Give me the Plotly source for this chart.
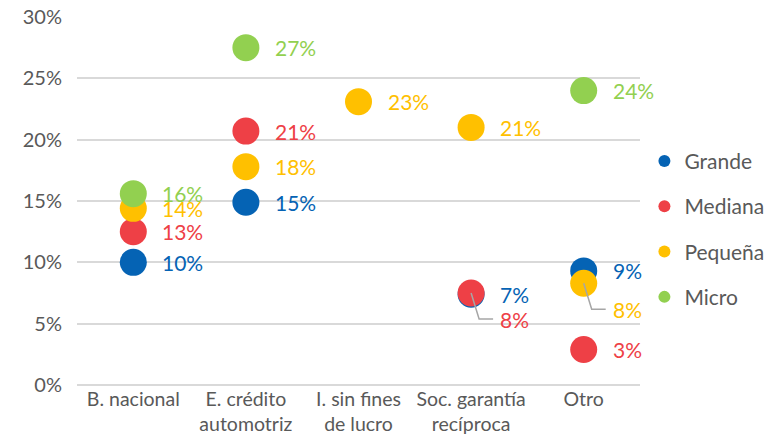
import plotly.graph_objects as go

categories = ["B. nacional", "E. crédito<br>automotriz", "I. sin fines<br>de lucro",
              "Soc. garantía<br>recíproca", "Otro"]
series_names = ["Grande", "Mediana", "Pequeña", "Micro"]
grande = [10.0, 14.9, None, 7.4, 9.3]
mediana = [12.5, 20.7, None, 7.5, 2.9]
pequena = [14.4, 17.8, 23.1, 21.0, 8.3]
micro = [15.6, 27.5, None, None, 24.0]
labels_grande = ["10%", "15%", None, "7%", "9%"]
labels_mediana = ["13%", "21%", None, "8%", "3%"]
labels_pequena = ["14%", "18%", "23%", "21%", "8%"]
labels_micro = ["16%", "27%", None, None, "24%"]
colors = ["#0563B4", "#EE4046", "#FFC000", "#92D050"]
y_ticks = [0, 5, 10, 15, 20, 25, 30]

values = [grande, mediana, pequena, micro]
labels = [labels_grande, labels_mediana, labels_pequena, labels_micro]
FONT = "Lato, Calibri, Carlito, sans-serif"

fig = go.Figure()
for i, name in enumerate(series_names):
    fig.add_trace(go.Scatter(
        x=categories, y=values[i], mode="markers", name=name,
        legendgroup=name,
        marker=dict(size=27, color=colors[i]),
        cliponaxis=False,
    ))

# leader-line cases: label pushed down with elbow line
leader = {(1, 3), (2, 4)}
annotations = []
shapes = []
for i in range(4):
    for j, cat in enumerate(categories):
        v = values[i][j]
        t = labels[i][j]
        if v is None or t is None:
            continue
        yshift = 0
        if (i, j) in leader:
            yshift = -26
            shapes.append(dict(
                type="path", xref="x", yref="y", xsizemode="pixel", ysizemode="pixel",
                xanchor=j, yanchor=v,
                path="M 0,0 L 8,-26 L 22,-26",
                line=dict(color="#A6A6A6", width=1.5), layer="above",
            ))
        annotations.append(dict(
            x=cat, y=v, text=t, showarrow=False, xanchor="left", yanchor="middle",
            xshift=27, yshift=yshift,
            font=dict(size=21, color=colors[i], family=FONT),
        ))

fig.update_layout(
    width=764, height=440,
    margin=dict(l=69, r=132, t=9, b=63),
    plot_bgcolor="white", paper_bgcolor="white",
    font=dict(family=FONT, size=19, color="#595959"),
    annotations=annotations, shapes=shapes,
    showlegend=True,
    legend=dict(xref="container", yref="container", x=0.833, y=0.497,
                xanchor="left", yanchor="middle",
                font=dict(size=21, color="#595959"), itemsizing="constant",
                traceorder="grouped", tracegroupgap=15, itemwidth=30),
    xaxis=dict(type="category", range=[-0.5, 4.5], showgrid=False, showline=False,
               ticks="", automargin=False, tickfont=dict(size=19.5, color="#595959")),
    yaxis=dict(range=[0, 30], tickvals=y_ticks, ticktext=[f"{v}%" for v in y_ticks],
               showgrid=True, gridcolor="#D9D9D9", gridwidth=1.5,
               zeroline=True, zerolinecolor="#D9D9D9", zerolinewidth=1.5,
               showline=False, ticks="", ticklabelstandoff=14, automargin=False,
               ticklabeloverflow="allow",
               tickfont=dict(size=20, color="#595959")),
)

fig.write_html("out.html")
